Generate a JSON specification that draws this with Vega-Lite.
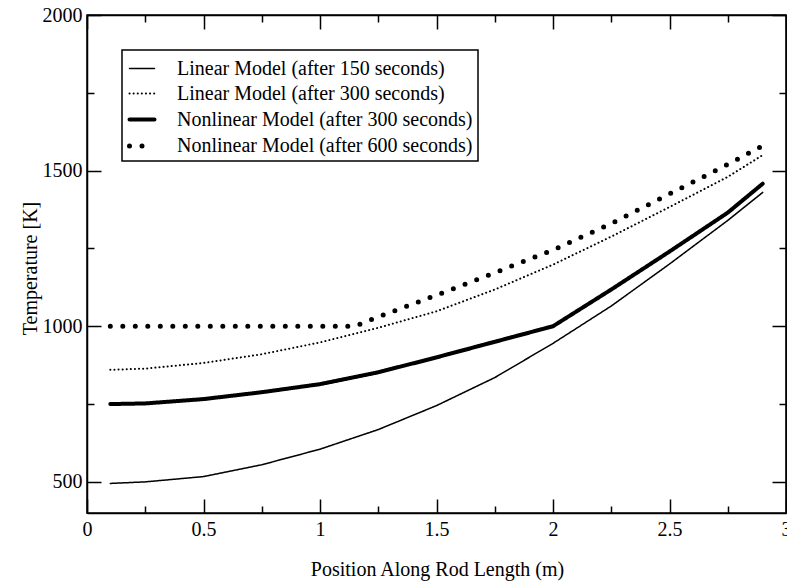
{
  "$schema": "https://vega.github.io/schema/vega-lite/v6.json",
  "width": 699,
  "height": 498,
  "autosize": "none",
  "padding": {"left": 87, "top": 15, "right": 1, "bottom": 68},
  "background": "white",
  "config": {
    "font": "Liberation Serif",
    "view": {"stroke": "black", "strokeWidth": 1.5},
    "axis": {
      "labelFont": "Liberation Serif", "labelFontSize": 20, "labelColor": "black",
      "titleFont": "Liberation Serif", "titleFontSize": 20, "titleFontWeight": "normal", "titleColor": "black",
      "grid": false, "domainColor": "black", "domainWidth": 1.5, "tickColor": "black", "tickWidth": 1.5,
      "labelFlush": false, "labelOverlap": false
    }
  },
  "data": {
    "values": [
      {"x": 0.1, "T": 495, "series": "Linear Model (after 150 seconds)"},
      {"x": 0.25, "T": 500, "series": "Linear Model (after 150 seconds)"},
      {"x": 0.5, "T": 517, "series": "Linear Model (after 150 seconds)"},
      {"x": 0.75, "T": 555, "series": "Linear Model (after 150 seconds)"},
      {"x": 1.0, "T": 605, "series": "Linear Model (after 150 seconds)"},
      {"x": 1.25, "T": 668, "series": "Linear Model (after 150 seconds)"},
      {"x": 1.5, "T": 745, "series": "Linear Model (after 150 seconds)"},
      {"x": 1.75, "T": 835, "series": "Linear Model (after 150 seconds)"},
      {"x": 2.0, "T": 945, "series": "Linear Model (after 150 seconds)"},
      {"x": 2.25, "T": 1065, "series": "Linear Model (after 150 seconds)"},
      {"x": 2.5, "T": 1200, "series": "Linear Model (after 150 seconds)"},
      {"x": 2.75, "T": 1340, "series": "Linear Model (after 150 seconds)"},
      {"x": 2.9, "T": 1430, "series": "Linear Model (after 150 seconds)"},
      {"x": 0.1, "T": 860, "series": "Linear Model (after 300 seconds)"},
      {"x": 0.25, "T": 864, "series": "Linear Model (after 300 seconds)"},
      {"x": 0.5, "T": 882, "series": "Linear Model (after 300 seconds)"},
      {"x": 0.75, "T": 910, "series": "Linear Model (after 300 seconds)"},
      {"x": 1.0, "T": 948, "series": "Linear Model (after 300 seconds)"},
      {"x": 1.25, "T": 995, "series": "Linear Model (after 300 seconds)"},
      {"x": 1.5, "T": 1048, "series": "Linear Model (after 300 seconds)"},
      {"x": 1.75, "T": 1118, "series": "Linear Model (after 300 seconds)"},
      {"x": 2.0, "T": 1198, "series": "Linear Model (after 300 seconds)"},
      {"x": 2.25, "T": 1288, "series": "Linear Model (after 300 seconds)"},
      {"x": 2.5, "T": 1383, "series": "Linear Model (after 300 seconds)"},
      {"x": 2.75, "T": 1480, "series": "Linear Model (after 300 seconds)"},
      {"x": 2.9, "T": 1550, "series": "Linear Model (after 300 seconds)"},
      {"x": 0.1, "T": 750, "series": "Nonlinear Model (after 300 seconds)"},
      {"x": 0.25, "T": 752, "series": "Nonlinear Model (after 300 seconds)"},
      {"x": 0.5, "T": 766, "series": "Nonlinear Model (after 300 seconds)"},
      {"x": 0.75, "T": 788, "series": "Nonlinear Model (after 300 seconds)"},
      {"x": 1.0, "T": 814, "series": "Nonlinear Model (after 300 seconds)"},
      {"x": 1.25, "T": 852, "series": "Nonlinear Model (after 300 seconds)"},
      {"x": 1.5, "T": 900, "series": "Nonlinear Model (after 300 seconds)"},
      {"x": 1.75, "T": 950, "series": "Nonlinear Model (after 300 seconds)"},
      {"x": 2.0, "T": 1000, "series": "Nonlinear Model (after 300 seconds)"},
      {"x": 2.25, "T": 1118, "series": "Nonlinear Model (after 300 seconds)"},
      {"x": 2.5, "T": 1240, "series": "Nonlinear Model (after 300 seconds)"},
      {"x": 2.75, "T": 1365, "series": "Nonlinear Model (after 300 seconds)"},
      {"x": 2.9, "T": 1458, "series": "Nonlinear Model (after 300 seconds)"},
      {"x": 0.1, "T": 1000, "series": "Nonlinear Model (after 600 seconds)"},
      {"x": 0.5, "T": 1000, "series": "Nonlinear Model (after 600 seconds)"},
      {"x": 1.0, "T": 1000, "series": "Nonlinear Model (after 600 seconds)"},
      {"x": 1.15, "T": 1000, "series": "Nonlinear Model (after 600 seconds)"},
      {"x": 1.25, "T": 1030, "series": "Nonlinear Model (after 600 seconds)"},
      {"x": 1.5, "T": 1100, "series": "Nonlinear Model (after 600 seconds)"},
      {"x": 1.75, "T": 1172, "series": "Nonlinear Model (after 600 seconds)"},
      {"x": 2.0, "T": 1245, "series": "Nonlinear Model (after 600 seconds)"},
      {"x": 2.25, "T": 1330, "series": "Nonlinear Model (after 600 seconds)"},
      {"x": 2.5, "T": 1425, "series": "Nonlinear Model (after 600 seconds)"},
      {"x": 2.75, "T": 1520, "series": "Nonlinear Model (after 600 seconds)"},
      {"x": 2.9, "T": 1580, "series": "Nonlinear Model (after 600 seconds)"}
    ]
  },
  "layer": [
    {
      "mark": {"type": "line", "stroke": "black", "strokeCap": "round", "strokeJoin": "round"},
      "encoding": {
        "x": {
          "field": "x", "type": "quantitative",
          "scale": {"domain": [0, 3], "nice": false, "zero": false},
          "axis": {
            "orient": "bottom",
            "values": [0, 0.25, 0.5, 0.75, 1, 1.25, 1.5, 1.75, 2, 2.25, 2.5, 2.75, 3],
            "format": "~g",
            "labelExpr": "datum.value % 0.5 === 0 ? datum.label : ''",
            "tickSize": {"condition": {"test": "datum.value % 0.5 === 0", "value": -14}, "value": -7},
            "labelPadding": 20,
            "title": "Position Along Rod Length (m)",
            "titleX": 350, "titleY": 56, "titleBaseline": "middle", "titleAlign": "center"
          }
        },
        "y": {
          "field": "T", "type": "quantitative",
          "scale": {"domain": [400, 2000], "nice": false, "zero": false},
          "axis": {
            "orient": "left",
            "values": [500, 750, 1000, 1250, 1500, 1750, 2000],
            "format": "d",
            "labelExpr": "datum.value % 500 === 0 ? datum.label : ''",
            "tickSize": {"condition": {"test": "datum.value % 500 === 0", "value": -14}, "value": -7},
            "labelPadding": 19,
            "title": "Temperature [K]",
            "titleX": -57, "titleY": 253, "titleAngle": -90, "titleBaseline": "middle", "titleAlign": "center"
          }
        },
        "strokeDash": {
          "field": "series", "type": "nominal",
          "scale": {
            "domain": ["Linear Model (after 150 seconds)", "Linear Model (after 300 seconds)", "Nonlinear Model (after 300 seconds)", "Nonlinear Model (after 600 seconds)"],
            "range": [[1, 0], [0.1, 4], [1, 0], [0, 12.5]]
          },
          "legend": {
            "orient": "none", "legendX": 35, "legendY": 35, "title": null,
            "padding": 5, "rowPadding": 1, "strokeColor": "black", "fillColor": "white",
            "labelFont": "Liberation Serif", "labelFontSize": 20, "labelColor": "black", "labelOffset": 20, "labelLimit": 500,
            "symbolType": "stroke", "symbolSize": 625, "symbolStrokeColor": "black",
            "encode": {"symbols": {"update": {"strokeCap": {"value": "round"}}}, "legend": {"update": {"strokeWidth": {"value": 1.5}}}}
          }
        },
        "strokeWidth": {
          "field": "series", "type": "nominal",
          "scale": {
            "type": "ordinal",
            "domain": ["Linear Model (after 150 seconds)", "Linear Model (after 300 seconds)", "Nonlinear Model (after 300 seconds)", "Nonlinear Model (after 600 seconds)"],
            "range": [1.5, 2, 4, 5]
          },
          "legend": {
            "orient": "none", "legendX": 35, "legendY": 35, "title": null,
            "padding": 5, "rowPadding": 1, "strokeColor": "black", "fillColor": "white",
            "labelFont": "Liberation Serif", "labelFontSize": 20, "labelColor": "black", "labelOffset": 20, "labelLimit": 500,
            "symbolType": "stroke", "symbolSize": 625, "symbolStrokeColor": "black",
            "encode": {"symbols": {"update": {"strokeCap": {"value": "round"}}}, "legend": {"update": {"strokeWidth": {"value": 1.5}}}}
          }
        }
      }
    },
    {
      "mark": {"type": "line", "opacity": 0},
      "encoding": {
        "x": {
          "field": "x", "type": "quantitative",
          "scale": {"domain": [0, 3], "nice": false, "zero": false},
          "axis": {
            "orient": "top",
            "values": [0, 0.25, 0.5, 0.75, 1, 1.25, 1.5, 1.75, 2, 2.25, 2.5, 2.75, 3],
            "labels": false,
            "tickSize": {"condition": {"test": "datum.value % 0.5 === 0", "value": -14}, "value": -7},
            "title": null
          }
        },
        "y": {
          "field": "T", "type": "quantitative",
          "scale": {"domain": [400, 2000], "nice": false, "zero": false},
          "axis": {
            "orient": "right",
            "values": [500, 750, 1000, 1250, 1500, 1750, 2000],
            "labels": false,
            "tickSize": {"condition": {"test": "datum.value % 500 === 0", "value": -14}, "value": -7},
            "title": null
          }
        }
      }
    }
  ],
  "resolve": {"axis": {"x": "independent", "y": "independent"}}
}
